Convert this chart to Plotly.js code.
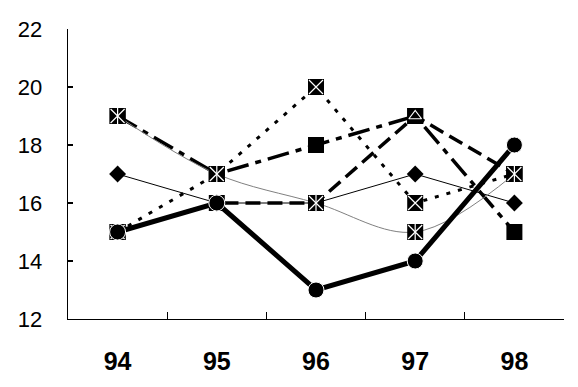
<!DOCTYPE html>
<html>
<head>
<meta charset="utf-8">
<script src="https://cdn.plot.ly/plotly-3.0.1.min.js"></script>
<style>html,body{margin:0;padding:0;background:#fff;}#chart{width:578px;height:387px;}</style>
</head>
<body>
<div id="chart"></div>
<script>
// Data
const years = ['94', '95', '96', '97', '98'];
const seriesA = [17, 16, 16, 17, 16];   // thin solid, diamond
const seriesB = [19, 17, 18, 19, 15];   // thick dash-dot, black square
const seriesC = [15, 16, 16, 19, 17];   // thick dashed, square with triangle
const seriesD = [15, 17, 20, 16, 17];   // thick dotted, square with x
const seriesE = [19, 17, 16, 15, 17];   // thin grey smoothed, square with asterisk
const seriesF = [15, 16, 13, 14, 18];   // bold solid, circle
const yTicks = [12, 14, 16, 18, 20, 22];

const whiteGlyph = (ys, symbol, size) => ({
  x: years, y: ys, mode: 'markers', hoverinfo: 'skip',
  marker: {symbol: symbol, size: size, color: '#fff', line: {width: 1.2, color: '#fff'}}
});

const traces = [
  {x: years, y: seriesA, mode: 'lines+markers', line: {color: '#000', width: 1},
   marker: {symbol: 'diamond', size: 13, color: '#000'}},
  {x: years, y: seriesB, mode: 'lines+markers', line: {color: '#000', width: 3.5, dash: '22px,7px,6px,7px'},
   marker: {symbol: 'square', size: 16, color: '#000'}},
  {x: years, y: seriesC, mode: 'lines+markers', line: {color: '#000', width: 3.5, dash: '15px,7px'},
   marker: {symbol: 'square', size: 16, color: '#000'}},
  whiteGlyph(seriesC, 'triangle-up-open', 11),
  {x: years, y: seriesD, mode: 'lines+markers', line: {color: '#000', width: 3, dash: '4px,8px'},
   marker: {symbol: 'square', size: 16, color: '#000'}},
  whiteGlyph(seriesD, 'x-thin-open', 14),
  {x: years, y: seriesE, mode: 'lines+markers', line: {color: '#808080', width: 1, shape: 'spline', smoothing: 1},
   marker: {symbol: 'square', size: 16, color: '#000'}},
  whiteGlyph(seriesE, 'x-thin-open', 14),
  whiteGlyph(seriesE, 'line-ns-open', 13),
  {x: years, y: seriesF, mode: 'lines+markers', line: {color: '#000', width: 5},
   marker: {symbol: 'circle', size: 16, color: '#000', line: {width: 1, color: '#fff'}}}
];

const layout = {
  width: 578, height: 387,
  margin: {l: 68, r: 14, t: 29, b: 68},
  paper_bgcolor: '#fff', plot_bgcolor: '#fff',
  showlegend: false,
  xaxis: {
    type: 'category', categoryorder: 'array', categoryarray: years,
    range: [-0.5, 4.5], tickson: 'boundaries',
    showline: true, linecolor: '#000', linewidth: 1.3,
    ticks: 'inside', ticklen: 7, tickcolor: '#000', tickwidth: 1.3,
    showgrid: false, zeroline: false,
    tickfont: {family: 'Liberation Sans, Arial, sans-serif', size: 25, color: '#000', weight: 'bold'},
    ticklabelstandoff: 20
  },
  yaxis: {
    range: [12, 22], tickvals: yTicks, ticktext: yTicks.map(String),
    showline: true, linecolor: '#000', linewidth: 1.3,
    ticks: 'inside', ticklen: 5, tickcolor: '#000', tickwidth: 1.3,
    showgrid: false, zeroline: false,
    tickfont: {family: 'Liberation Sans, Arial, sans-serif', size: 22, color: '#000'},
    ticklabelstandoff: 20
  }
};

Plotly.newPlot('chart', traces, layout, {displayModeBar: false, staticPlot: true});
</script>
</body>
</html>
